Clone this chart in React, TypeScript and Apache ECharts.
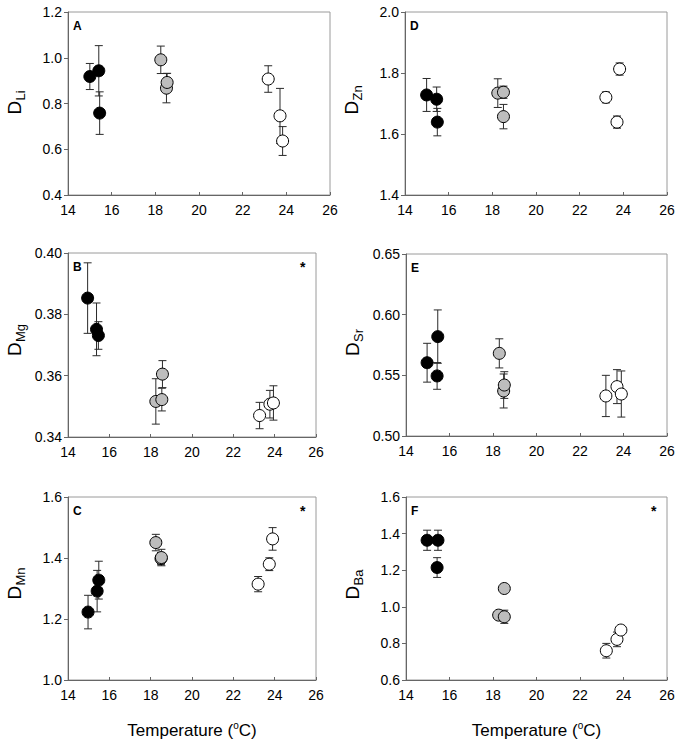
import React, { useEffect, useRef } from 'react';
import * as echarts from 'echarts';

// [temperature °C, D value, error]
const liBlack = [[15.0, 0.918, 0.057], [15.41, 0.943, 0.11], [15.45, 0.758, 0.093]];
const liGray = [[18.25, 0.991, 0.06], [18.51, 0.867, 0.064], [18.54, 0.892, 0.04]];
const liWhite = [[23.17, 0.907, 0.058], [23.71, 0.746, 0.12], [23.83, 0.636, 0.063]];

const mgBlack = [[14.95, 0.3853, 0.0115], [15.38, 0.3751, 0.0086], [15.47, 0.3731, 0.0045]];
const mgGray = [[18.25, 0.3516, 0.0074], [18.54, 0.3522, 0.0037], [18.57, 0.3605, 0.0044]];
const mgWhite = [[23.27, 0.347, 0.0043], [23.77, 0.3507, 0.0045], [23.94, 0.3511, 0.0056]];

const mnBlack = [[14.97, 1.2227, 0.055], [15.41, 1.2914, 0.068], [15.49, 1.3274, 0.062]];
const mnGray = [[18.25, 1.4506, 0.027], [18.5, 1.398, 0.02], [18.52, 1.4015, 0.027]];
const mnWhite = [[23.2, 1.3143, 0.025], [23.74, 1.3797, 0.021], [23.9, 1.4626, 0.037]];

const znBlack = [[14.99, 1.728, 0.054], [15.45, 1.714, 0.04], [15.48, 1.639, 0.045]];
const znGray = [[18.25, 1.734, 0.047], [18.51, 1.737, 0.02], [18.51, 1.657, 0.04]];
const znWhite = [[23.2, 1.72, 0.018], [23.83, 1.813, 0.02], [23.71, 1.639, 0.02]];

const srBlack = [[14.97, 0.5604, 0.016], [15.43, 0.5495, 0.011], [15.46, 0.5819, 0.022]];
const srGray = [[18.29, 0.5681, 0.012], [18.49, 0.5371, 0.014], [18.52, 0.542, 0.011]];
const srWhite = [[23.19, 0.533, 0.017], [23.7, 0.5407, 0.014], [23.9, 0.5346, 0.019]];

const baBlack = [[14.97, 1.3636, 0.055], [15.47, 1.3636, 0.055], [15.43, 1.2145, 0.054]];
const baGray = [[18.26, 0.9545, 0.02], [18.52, 1.1, 0.015], [18.52, 0.9455, 0.036]];
const baWhite = [[23.21, 0.76, 0.04], [23.7, 0.822, 0.04], [23.88, 0.873, 0.015]];

const xTicks = { min: 14, max: 26, interval: 2 };

const panelLetters = ['A', 'B', 'C', 'D', 'E', 'F'];
const elementNames = ['Li', 'Mg', 'Mn', 'Zn', 'Sr', 'Ba'];
const yMins = [0.4, 0.34, 1.0, 1.4, 0.5, 0.6];
const yMaxs = [1.2, 0.4, 1.6, 2.0, 0.65, 1.6];
const yIntervals = [0.2, 0.02, 0.2, 0.2, 0.05, 0.2];
const yDecimals = [1, 2, 1, 1, 2, 1];
const hasStar = [false, true, true, false, false, true];
const blackSets = [liBlack, mgBlack, mnBlack, znBlack, srBlack, baBlack];
const graySets = [liGray, mgGray, mnGray, znGray, srGray, baGray];
const whiteSets = [liWhite, mgWhite, mnWhite, znWhite, srWhite, baWhite];

// layout (pixels)
const grids = [
  { left: 68, top: 12, width: 262, height: 183 },
  { left: 68, top: 253, width: 248, height: 184 },
  { left: 68, top: 497, width: 248, height: 183 },
  { left: 405, top: 12, width: 262, height: 183 },
  { left: 406, top: 254, width: 261, height: 182 },
  { left: 406, top: 497, width: 261, height: 183 },
];

const FONT = "'Liberation Sans', Arial, Helvetica, sans-serif";

export default function App() {
  const ref = useRef<HTMLDivElement>(null);
  useEffect(() => {
    if (!ref.current) return;
    const chart = echarts.init(ref.current, undefined, { renderer: 'svg' });

    const errorRender = (params: any, api: any) => {
      const x = api.value(0);
      const y = api.value(1);
      const e = api.value(2);
      const top = api.coord([x, y + e]);
      const bot = api.coord([x, y - e]);
      const w = 4;
      const st = { stroke: '#2a2a2a', lineWidth: 1 };
      return {
        type: 'group',
        children: [
          { type: 'line', shape: { x1: top[0], y1: top[1], x2: bot[0], y2: bot[1] }, style: st },
          { type: 'line', shape: { x1: top[0] - w, y1: top[1], x2: top[0] + w, y2: top[1] }, style: st },
          { type: 'line', shape: { x1: bot[0] - w, y1: bot[1], x2: bot[0] + w, y2: bot[1] }, style: st },
        ],
      };
    };

    const series: any[] = [];
    const xAxis: any[] = [];
    const yAxis: any[] = [];
    const graphic: any[] = [];

    grids.forEach((g, i) => {
      const bottomRow = i === 2 || i === 5;
      xAxis.push({
        gridIndex: i,
        type: 'value',
        min: xTicks.min,
        max: xTicks.max,
        interval: xTicks.interval,
        axisLine: { lineStyle: { color: '#666', width: 1 } },
        axisTick: { inside: true, length: 3, lineStyle: { color: '#666' } },
        axisLabel: { color: '#000', fontSize: 14, fontFamily: FONT, margin: 8 },
        splitLine: { show: false },
        name: bottomRow ? '{t|Temperature (}{o|o}{t|C)}' : '',
        nameLocation: 'middle',
        nameGap: 40,
        nameTextStyle: {
          fontFamily: FONT,
          color: '#000',
          rich: {
            t: { fontSize: 17, fontFamily: FONT, color: '#000', lineHeight: 20 },
            o: { fontSize: 10, fontFamily: FONT, color: '#000', verticalAlign: 'top', lineHeight: 20, padding: [0, 0, 6, 0] },
          },
        },
      });
      const dec = yDecimals[i];
      yAxis.push({
        gridIndex: i,
        type: 'value',
        min: yMins[i],
        max: yMaxs[i],
        interval: yIntervals[i],
        axisLine: { show: true, lineStyle: { color: '#666', width: 1 } },
        axisTick: { show: true, inside: false, length: 4, lineStyle: { color: '#666' } },
        axisLabel: {
          color: '#000',
          fontSize: 14,
          fontFamily: FONT,
          margin: 6,
          formatter: (v: number) => v.toFixed(dec),
        },
        splitLine: { show: false },
      });

      series.push({
        type: 'custom',
        xAxisIndex: i,
        yAxisIndex: i,
        renderItem: errorRender,
        encode: { x: 0, y: 1 },
        data: [...blackSets[i], ...graySets[i], ...whiteSets[i]],
        z: 1,
        silent: true,
      });
      const fills = ['#000000', '#bdbdbd', '#ffffff'];
      [blackSets[i], graySets[i], whiteSets[i]].forEach((set, k) => {
        series.push({
          type: 'scatter',
          xAxisIndex: i,
          yAxisIndex: i,
          data: set.map((d) => [d[0], d[1]]),
          symbol: 'circle',
          symbolSize: 12,
          itemStyle: { color: fills[k], borderColor: '#000', borderWidth: 1, opacity: 1 },
          z: 2,
        });
      });

      // rotated y-axis title: D with subscript element name
      const gc = g.top + g.height / 2;
      graphic.push({
        type: 'text',
        x: g.left - 63,
        y: gc + 11,
        rotation: Math.PI / 2,
        style: { text: 'D', fontSize: 19, fill: '#000' },
      });
      graphic.push({
        type: 'text',
        x: g.left - 54,
        y: gc - 3,
        rotation: Math.PI / 2,
        style: { text: elementNames[i], fontSize: 13, fill: '#000' },
      });

      graphic.push({
        type: 'text',
        left: g.left + 5,
        top: g.top + 8,
        style: { text: panelLetters[i], fontSize: 12, fontWeight: 'bold', fontFamily: FONT, fill: '#000' },
      });
      if (hasStar[i]) {
        graphic.push({
          type: 'text',
          left: g.left + g.width - 16,
          top: g.top + 7,
          style: { text: '*', fontSize: 14, fontWeight: 'bold', fontFamily: FONT, fill: '#000' },
        });
      }
    });

    chart.setOption({
      animation: false,
      backgroundColor: '#ffffff',
      grid: grids.map((g) => ({
        left: g.left,
        top: g.top,
        width: g.width,
        height: g.height,
        show: true,
        borderColor: '#9a9a9a',
        borderWidth: 1,
        backgroundColor: 'transparent',
        containLabel: false,
      })),
      xAxis,
      yAxis,
      series,
      graphic,
    });
    return () => chart.dispose();
  }, []);
  return <div ref={ref} style={{ position: 'fixed', left: 0, top: 0, width: 681, height: 748, background: '#fff' }} />;
}
